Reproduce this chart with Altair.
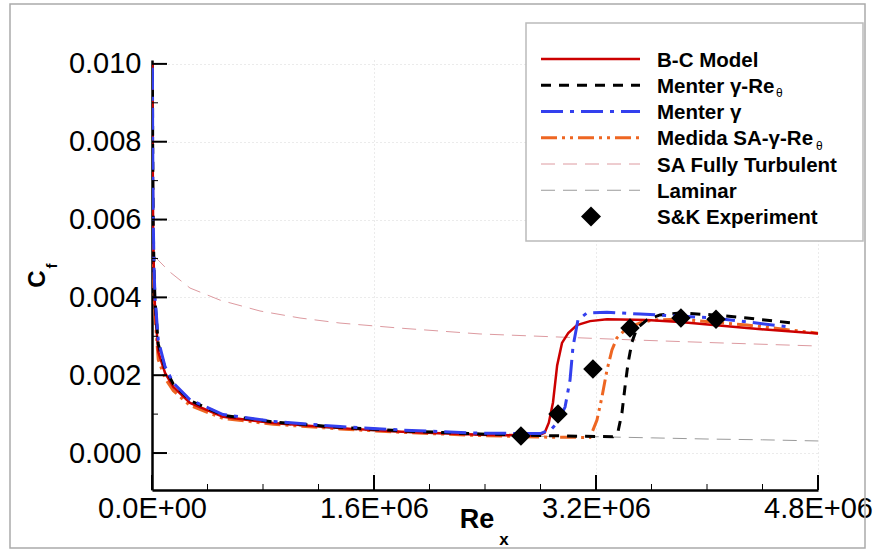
import altair as alt
import pandas as pd

# ---------------- data ----------------
bc_re = [3000, 5000, 8000, 15000, 22000, 45000, 94000, 154000, 274000, 512000, 874000,
         1355000, 1800000, 2364000, 2780000, 2830000, 2860000, 2890000, 2920000, 2955000,
         3000000, 3063000, 3157000, 3279000, 3567000, 3805000, 4288000, 4800000]
bc_cf = [0.0100, 0.0078, 0.0058, 0.0044, 0.0037, 0.0026, 0.00206, 0.0017, 0.00129, 0.00093,
         0.00077, 0.00064, 0.00055, 0.00047, 0.00045, 0.00052, 0.00078, 0.00130, 0.00225,
         0.00283, 0.00308, 0.00329, 0.00339, 0.00344, 0.00342, 0.00337, 0.00321, 0.00307]

mg_re = [3000, 5000, 8000, 15000, 22000, 45000, 94000, 154000, 274000, 512000, 874000,
         1355000, 1800000, 2364000, 2800000, 2880000, 2920000, 2977000, 3013000, 3034000,
         3070000, 3135000, 3279000, 3517000, 3800000, 4043000, 4288000, 4598000]
mg_cf = [0.0099, 0.0080, 0.0062, 0.0047, 0.0040, 0.0029, 0.00222, 0.00180, 0.00137, 0.00099,
         0.00081, 0.00068, 0.00059, 0.00051, 0.00050, 0.00062, 0.00078, 0.00118, 0.00188,
         0.00273, 0.00342, 0.00360, 0.00362, 0.00357, 0.00352, 0.00347, 0.00337, 0.00324]

mgr_re = [3000, 5000, 8000, 15000, 22000, 45000, 94000, 154000, 274000, 512000, 874000,
          1355000, 1800000, 2364000, 2800000, 3100000, 3322000, 3358000, 3387000, 3409000,
          3431000, 3459000, 3495000, 3567000, 3661000, 3805000, 4043000, 4288000, 4620000]
mgr_cf = [0.0098, 0.0079, 0.0061, 0.0046, 0.0039, 0.0028, 0.00218, 0.00177, 0.00135, 0.00097,
          0.00080, 0.00066, 0.00057, 0.00049, 0.00045, 0.00043, 0.00042, 0.00054, 0.00103,
          0.00170, 0.00231, 0.00285, 0.00321, 0.00342, 0.00355, 0.00360, 0.00355, 0.00347,
          0.00334]

med_re = [4000, 8000, 15000, 22000, 45000, 94000, 154000, 274000, 512000, 874000,
          1355000, 1800000, 2364000, 2800000, 3157000, 3207000, 3243000, 3279000, 3315000,
          3351000, 3423000, 3517000, 3611000, 3805000, 4288000, 4800000]
med_cf = [0.0056, 0.0050, 0.0041, 0.0035, 0.0024, 0.00192, 0.00160, 0.00122, 0.00089, 0.00074,
          0.00062, 0.00053, 0.00045, 0.00041, 0.00040, 0.00085, 0.00144, 0.00213, 0.00265,
          0.00296, 0.00321, 0.00334, 0.00342, 0.00344, 0.00329, 0.00308]

sa_re = [21600, 129700, 273900, 490000, 778400, 1066600, 1354900, 1787300, 2363900,
         2940500, 3517000, 4093600, 4800000]
sa_cf = [0.00504, 0.00465, 0.00424, 0.00393, 0.00365, 0.00347, 0.00334, 0.00321, 0.00306,
         0.00298, 0.00290, 0.00283, 0.00275]

lam_re = [3000, 5000, 8000, 15000, 22000, 45000, 94000, 154000, 274000, 512000, 874000,
          1355000, 1800000, 2364000, 2800000, 3200000, 3600000, 4000000, 4400000, 4800000]
lam_cf = [0.0100, 0.0078, 0.0058, 0.0044, 0.0037, 0.0026, 0.00206, 0.0017, 0.00129, 0.00093,
          0.00075, 0.00061, 0.00053, 0.00045, 0.00043, 0.00042, 0.00039, 0.00036, 0.00034,
          0.00031]

exp_re = [2659000, 2926000, 3178000, 3445000, 3812000, 4065000]
exp_cf = [0.00044, 0.00100, 0.00216, 0.00321, 0.00347, 0.00344]

x_major = [0, 1600000, 3200000, 4800000]
x_minor = [400000, 800000, 1200000, 2000000, 2400000, 2800000, 3600000, 4000000, 4400000]
y_major = [0.000, 0.002, 0.004, 0.006, 0.008, 0.010]
y_minor = [0.001, 0.003, 0.005, 0.007, 0.009]

legend_labels = ["B-C Model", "Menter γ-Re", "Menter γ", "Medida SA-γ-Re",
                 "SA Fully Turbulent", "Laminar", "S&K Experiment"]

# ---------------- layout / style ----------------
W, H = 666, 430
FONT = "Liberation Sans"
xs = alt.Scale(domain=[0, 4800000], nice=False, zero=False)
ys = alt.Scale(domain=[-0.00095, 0.0101], nice=False, zero=False)

XAX = alt.Axis(values=x_major, grid=True, gridDash=[1, 3], gridColor="#d6d6d6",
               gridWidth=1, ticks=False, domain=True, domainColor="black", domainWidth=2.5,
               labelFont=FONT, labelFontSize=29, labelColor="black",
               labelPadding=4, labelFlush=False, labelOverlap=False, title=None,
               labelExpr="datum.value == 0 ? '0.0E+00' : format(datum.value/1e6, '.1f') + 'E+06'")
YAX = alt.Axis(values=y_major, grid=True, gridDash=[1, 3], gridColor="#d6d6d6",
               gridWidth=1, ticks=False, domain=True, domainColor="black", domainWidth=2.5,
               labelFont=FONT, labelFontSize=29, labelColor="black",
               labelPadding=11, labelFlush=False, labelOverlap=False, title=None,
               format=".3f")

styles = {
    "lam": dict(color="#9a9a9a", strokeWidth=1, strokeDash=[14, 8]),
    "sa": dict(color="#dd9aa0", strokeWidth=1, strokeDash=[14, 8]),
    "med": dict(color="#ee6622", strokeWidth=3, strokeDash=[16, 5, 3, 5, 3, 5]),
    "bc": dict(color="#cc0000", strokeWidth=2.5),
    "mgr": dict(color="#000000", strokeWidth=3, strokeDash=[10, 8]),
    "mg": dict(color="#3340ee", strokeWidth=3, strokeDash=[22, 7, 4, 7]),
}

one = pd.DataFrame({"a": [0]})


def line(re, cf, key):
    df = pd.DataFrame({"Re": re, "Cf": cf})
    return alt.Chart(df).mark_line(clip=True, **styles[key]).encode(
        x=alt.X("Re:Q", scale=xs, axis=XAX),
        y=alt.Y("Cf:Q", scale=ys, axis=YAX),
        order="Re:Q",
    )


layers = [
    line(lam_re, lam_cf, "lam"),
    line(sa_re, sa_cf, "sa"),
    line(med_re, med_cf, "med"),
    line(bc_re, bc_cf, "bc"),
    line(mgr_re, mgr_cf, "mgr"),
    line(mg_re, mg_cf, "mg"),
]

exp_df = pd.DataFrame({"Re": exp_re, "Cf": exp_cf})
layers.append(
    alt.Chart(exp_df).mark_point(shape="diamond", filled=True, color="black", size=380, opacity=1).encode(
        x=alt.X("Re:Q", scale=xs, axis=XAX), y=alt.Y("Cf:Q", scale=ys, axis=YAX)
    )
)


# inward ticks
def xticks(vals, length, width):
    return alt.Chart(pd.DataFrame({"Re": vals})).mark_rule(color="black", strokeWidth=width).encode(
        x=alt.X("Re:Q", scale=xs, axis=XAX), y=alt.value(H), y2=alt.value(H - length))


def yticks(vals, length, width):
    return alt.Chart(pd.DataFrame({"Cf": vals})).mark_rule(color="black", strokeWidth=width).encode(
        y=alt.Y("Cf:Q", scale=ys, axis=YAX), x=alt.value(0), x2=alt.value(length))


layers += [xticks(x_major, 15, 2), xticks(x_minor, 6, 1), yticks(y_major, 15, 2), yticks(y_minor, 6, 1)]


def txt(s, x, y, size, bold=True, angle=0, align="left"):
    kw = dict(text=s, font=FONT, fontSize=size, fontWeight="bold" if bold else "normal",
              color="black", align=align, baseline="alphabetic")
    if angle:
        kw["angle"] = angle
    return alt.Chart(one).mark_text(**kw).encode(x=alt.value(x), y=alt.value(y))


# axis titles
layers += [
    txt("Re", 325, 468, 27, align="center"),
    txt("x", 352, 485, 17, align="center"),
    txt("C", -107, 219, 24, angle=270, align="center"),
    txt("f", -95, 206, 15, angle=270, align="center"),
]

# legend
layers.append(alt.Chart(one).mark_rect(fill="white", stroke="#bbbbbb", strokeWidth=1.5).encode(
    x=alt.value(374), x2=alt.value(711), y=alt.value(-37), y2=alt.value(181)))
row0, step = -1, 26.25
keys = ["bc", "mgr", "mg", "med", "sa", "lam"]
for i, k in enumerate(keys):
    yy = row0 + i * step
    layers.append(alt.Chart(one).mark_rule(**styles[k]).encode(
        x=alt.value(389), x2=alt.value(488), y=alt.value(yy)))
layers.append(alt.Chart(one).mark_point(shape="diamond", filled=True, color="black", size=400, opacity=1).encode(
    x=alt.value(439), y=alt.value(row0 + 6 * step)))
for i, lab in enumerate(legend_labels):
    layers.append(txt(lab, 505, row0 + i * step + 7.5, 20.5))
layers.append(txt("θ", 624, row0 + 1 * step + 12, 12, bold=False))
layers.append(txt("θ", 664, row0 + 3 * step + 12, 12, bold=False))

# outer frame
layers.append(alt.Chart(one).mark_rect(fillOpacity=0, stroke="#aaaaaa", strokeWidth=1.5).encode(
    x=alt.value(-142), x2=alt.value(713), y=alt.value(-56), y2=alt.value(488)))

chart = alt.layer(*layers).properties(
    width=W, height=H,
    autosize=alt.AutoSizeParams(type="none"),
    padding={"left": 152, "top": 60, "right": 57, "bottom": 64},
    background="white",
).configure_view(stroke=None)

chart.save("out.html", embed_options={"renderer": "svg", "actions": False})
